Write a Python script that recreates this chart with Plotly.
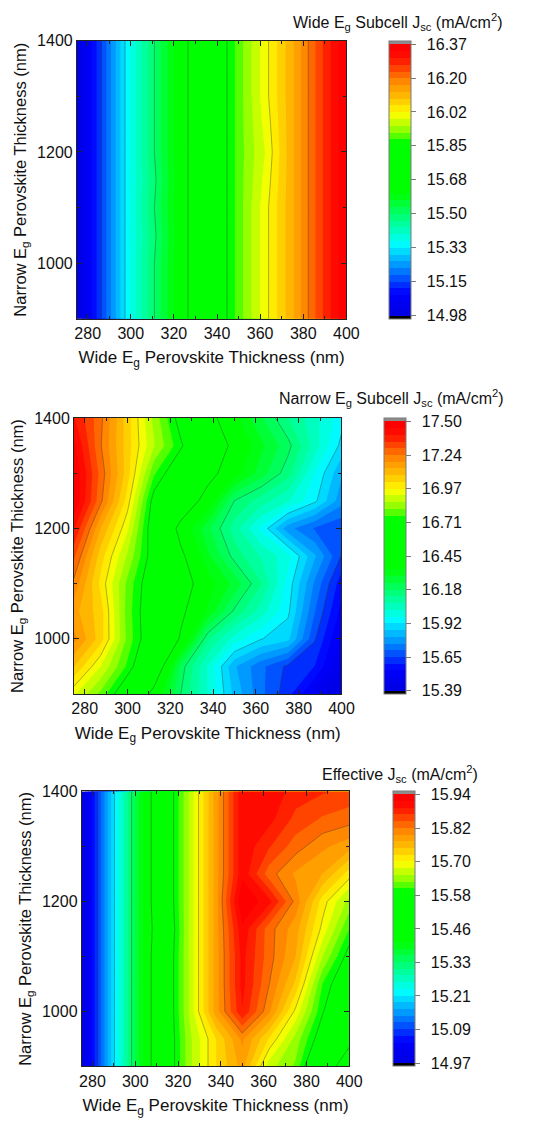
import numpy as np
import plotly.graph_objects as go

FONT = "Liberation Sans, Arial, sans-serif"

# Grid: wide-gap (x) and narrow-gap (y) perovskite thickness, nm
WIDE_NM = [275, 287.5, 300, 312.5, 325, 337.5, 350, 362.5, 375, 387.5, 400]
NARROW_NM = [900, 950, 1000, 1050, 1100, 1150, 1200, 1250, 1300, 1350, 1400]

# Wide Eg subcell Jsc (mA/cm2), rows follow NARROW_NM
WIDE_JSC = [
    [14.98, 15.17, 15.37, 15.52, 15.66, 15.78, 15.90, 16.01, 16.12, 16.25, 16.37],
    [14.98, 15.17, 15.37, 15.52, 15.66, 15.78, 15.90, 16.01, 16.12, 16.25, 16.37],
    [14.98, 15.17, 15.37, 15.52, 15.66, 15.78, 15.90, 16.01, 16.12, 16.25, 16.37],
    [14.98, 15.17, 15.37, 15.51, 15.66, 15.78, 15.90, 16.01, 16.12, 16.25, 16.37],
    [14.98, 15.17, 15.37, 15.52, 15.66, 15.78, 15.90, 16.01, 16.12, 16.25, 16.37],
    [14.98, 15.17, 15.37, 15.51, 15.66, 15.78, 15.90, 16.00, 16.12, 16.25, 16.37],
    [14.98, 15.17, 15.37, 15.52, 15.66, 15.78, 15.90, 15.99, 16.12, 16.25, 16.37],
    [14.98, 15.17, 15.37, 15.52, 15.66, 15.78, 15.90, 16.00, 16.12, 16.25, 16.37],
    [14.98, 15.17, 15.37, 15.52, 15.66, 15.78, 15.90, 16.01, 16.12, 16.25, 16.37],
    [14.98, 15.17, 15.37, 15.52, 15.66, 15.78, 15.90, 16.01, 16.12, 16.25, 16.37],
    [14.98, 15.17, 15.37, 15.52, 15.66, 15.78, 15.90, 16.01, 16.12, 16.25, 16.37],
]

# Narrow Eg subcell Jsc (mA/cm2)
NARROW_JSC = [
    [16.93, 16.80, 16.62, 16.40, 16.18, 16.02, 15.85, 15.72, 15.62, 15.48, 15.39],
    [17.08, 16.92, 16.75, 16.56, 16.21, 16.02, 15.82, 15.72, 15.64, 15.60, 15.44],
    [17.20, 17.05, 16.80, 16.62, 16.43, 16.14, 16.00, 15.92, 15.88, 15.66, 15.48],
    [17.15, 17.05, 16.79, 16.62, 16.47, 16.33, 16.17, 16.05, 15.93, 15.71, 15.53],
    [17.22, 17.01, 16.80, 16.63, 16.51, 16.37, 16.27, 16.13, 15.95, 15.75, 15.57],
    [17.30, 17.05, 16.86, 16.66, 16.47, 16.30, 16.16, 16.07, 15.99, 15.82, 15.65],
    [17.40, 17.13, 16.93, 16.64, 16.40, 16.25, 16.10, 15.96, 15.78, 15.70, 15.66],
    [17.50, 17.25, 17.00, 16.67, 16.55, 16.39, 16.18, 16.10, 16.03, 15.93, 15.78],
    [17.50, 17.27, 17.05, 16.77, 16.62, 16.49, 16.37, 16.26, 16.15, 15.97, 15.82],
    [17.46, 17.24, 17.05, 16.87, 16.72, 16.56, 16.41, 16.30, 16.20, 16.05, 15.90],
    [17.40, 17.25, 17.05, 16.85, 16.67, 16.49, 16.36, 16.24, 16.13, 16.04, 15.94],
]

# Effective (current-matched) Jsc (mA/cm2)
EFF_JSC = [
    [14.97, 15.17, 15.36, 15.52, 15.64, 15.72, 15.78, 15.66, 15.62, 15.49, 15.42],
    [14.97, 15.17, 15.36, 15.52, 15.64, 15.72, 15.80, 15.72, 15.64, 15.55, 15.47],
    [14.97, 15.17, 15.36, 15.52, 15.65, 15.78, 15.89, 15.80, 15.69, 15.58, 15.50],
    [14.97, 15.17, 15.36, 15.52, 15.65, 15.78, 15.90, 15.82, 15.74, 15.60, 15.53],
    [14.97, 15.17, 15.36, 15.52, 15.65, 15.78, 15.90, 15.83, 15.77, 15.65, 15.56],
    [14.97, 15.17, 15.36, 15.51, 15.65, 15.78, 15.91, 15.83, 15.78, 15.69, 15.60],
    [14.97, 15.17, 15.36, 15.52, 15.65, 15.78, 15.94, 15.90, 15.81, 15.71, 15.64],
    [14.97, 15.17, 15.36, 15.52, 15.65, 15.78, 15.91, 15.83, 15.79, 15.77, 15.71],
    [14.97, 15.17, 15.36, 15.52, 15.65, 15.78, 15.91, 15.87, 15.83, 15.80, 15.78],
    [14.97, 15.17, 15.36, 15.52, 15.65, 15.78, 15.91, 15.90, 15.86, 15.84, 15.83],
    [14.97, 15.17, 15.36, 15.52, 15.65, 15.78, 15.91, 15.91, 15.88, 15.87, 15.86],
]

WIDE_TICKS = ["14.98", "15.15", "15.33", "15.50", "15.68", "15.85", "16.02", "16.20", "16.37"]
NARROW_TICKS = ["15.39", "15.65", "15.92", "16.18", "16.45", "16.71", "16.97", "17.24", "17.50"]
EFF_TICKS = ["14.97", "15.09", "15.21", "15.33", "15.46", "15.58", "15.70", "15.82", "15.94"]

CB_TITLES = [
    "Wide E<sub>g</sub> Subcell J<sub>sc</sub> (mA/cm<sup>2</sup>)",
    "Narrow E<sub>g</sub> Subcell J<sub>sc</sub> (mA/cm<sup>2</sup>)",
    "Effective J<sub>sc</sub> (mA/cm<sup>2</sup>)",
]
X_TITLE = "Wide E<sub>g</sub> Perovskite Thickness (nm)"
Y_TITLE = "Narrow E<sub>g</sub> Perovskite Thickness (nm)"

# Origin-like rainbow map
JET = [(0.00, "#0000e6"), (0.07, "#0000ff"), (0.16, "#0080ff"), (0.26, "#00ffff"),
       (0.45, "#00ff00"), (0.64, "#00ff00"), (0.68, "#80ff00"), (0.75, "#ffff00"),
       (0.81, "#ffc000"), (0.88, "#ff8000"), (0.96, "#ff1000"), (1.00, "#ff0000")]
N_FILL = 40

W, H = 550, 1127
# pixel boxes: (left, right, top, bottom) of each plot, colorbar left px, title right px, title y px
PANELS = [
    dict(box=(77, 354, 33, 313), cb=398, tr=516, ty=14),
    dict(box=(74, 349, 413, 691), cb=393, tr=518, ty=393),
    dict(box=(82, 357, 789, 1066), cb=402, tr=491, ty=771),
]


def origin_scale(n=N_FILL):
    # black below min, gray above max, like the Origin colour bar
    lo, hi = 1 / (n + 1), n / (n + 1)
    scale = [[0, "#000000"]]
    for p, c in JET:
        scale.append([lo + p * (hi - lo), c])
    scale.append([1, "#8c8c8c"])
    return scale


fig = go.Figure()
data_sets = [WIDE_JSC, NARROW_JSC, EFF_JSC]
tick_sets = [WIDE_TICKS, NARROW_TICKS, EFF_TICKS]

for i, (z, ticks, p) in enumerate(zip(data_sets, tick_sets, PANELS)):
    n = "" if i == 0 else str(i + 1)
    left, right, top, bottom = p["box"]
    lo, hi = float(ticks[0]), float(ticks[-1])
    tickvals = np.linspace(lo, hi, len(ticks))
    step = tickvals[1] - tickvals[0]

    fig.add_trace(go.Contour(
        x=WIDE_NM, y=NARROW_NM, z=z, xaxis="x" + n, yaxis="y" + n,
        autocontour=False,
        contours=dict(coloring="fill", showlines=False, start=lo, end=hi, size=(hi - lo) / N_FILL),
        line=dict(width=0, smoothing=0),
        colorscale=origin_scale(),
        hoverinfo="skip",
        colorbar=dict(
            x=p["cb"] / W, xanchor="left", xpad=0,
            y=1 - top / H, yanchor="top", ypad=0,
            len=(bottom - top) / H, lenmode="fraction",
            thickness=22, thicknessmode="pixels",
            outlinewidth=1, outlinecolor="#7a7a7a",
            tickvals=tickvals,
            # small non-breaking gap between tick and label, as in the original
            ticktext=["\u00a0\u2009" + t for t in ticks],
            ticks="outside", ticklen=5, tickcolor="#7a7a7a",
            tickfont=dict(size=16, color="#111", family=FONT),
        ),
    ))
    # major contour lines at the colour bar labels
    fig.add_trace(go.Contour(
        x=WIDE_NM, y=NARROW_NM, z=z, xaxis="x" + n, yaxis="y" + n,
        autocontour=False,
        contours=dict(coloring="none", showlines=True,
                      start=tickvals[1], end=tickvals[-2], size=step),
        line=dict(color="rgba(50,50,50,0.55)", width=0.7, smoothing=0),
        showscale=False, hoverinfo="skip",
    ))

    axis_common = dict(showline=True, linecolor="#222", linewidth=1, mirror="ticks",
                       ticks="inside", ticklen=5, tickcolor="#222",
                       showgrid=False, zeroline=False,
                       tickfont=dict(size=16, color="#111", family=FONT))
    fig.update_layout({
        "xaxis" + n: dict(axis_common, domain=[left / W, right / W], anchor="y" + n,
                          range=[275, 400], tick0=280, dtick=20,
                          minor=dict(ticks="inside", ticklen=3, dtick=10, tick0=280, tickcolor="#222"),
                          title=dict(text=X_TITLE, font=dict(size=17, color="#111", family=FONT), standoff=10)),
        "yaxis" + n: dict(axis_common, domain=[1 - bottom / H, 1 - top / H], anchor="x" + n,
                          range=[900, 1400], tick0=1000, dtick=200,
                          minor=dict(ticks="inside", ticklen=3, dtick=100, tick0=900, tickcolor="#222"),
                          title=dict(text=Y_TITLE, font=dict(size=16.5, color="#111", family=FONT), standoff=6)),
    })
    fig.add_annotation(text=CB_TITLES[i], x=p["tr"] / W, y=1 - p["ty"] / H,
                       xref="paper", yref="paper", xanchor="right", yanchor="middle",
                       showarrow=False, font=dict(size=16, color="#111", family=FONT))

fig.update_layout(
    width=W, height=H,
    margin=dict(l=0, r=0, t=0, b=0),
    paper_bgcolor="white", plot_bgcolor="white",
    showlegend=False,
    font=dict(family=FONT, color="#111"),
)

# the page body has a default 8px margin; drop it so the figure fills the window
fig.write_html("out.html", config={"displayModeBar": False},
               post_script="document.body.style.margin = '0';")
